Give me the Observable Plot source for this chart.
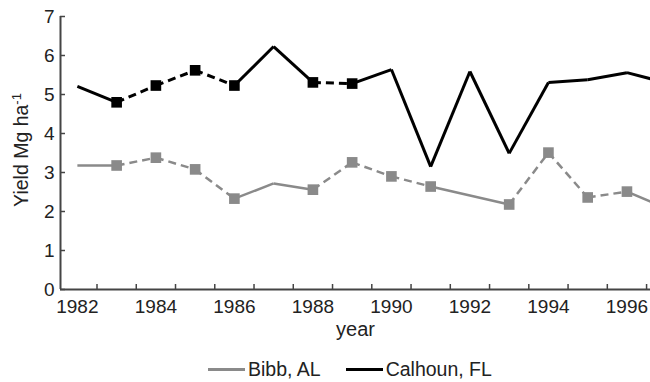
<!DOCTYPE html>
<html><head><meta charset="utf-8">
<script src="https://cdn.jsdelivr.net/npm/d3@7"></script>
<script src="https://cdn.jsdelivr.net/npm/@observablehq/plot@0.6"></script>
<style>
body{margin:0;background:#fff;font-family:"Liberation Sans",Arial,sans-serif;color:#222;}
#chart svg{display:block;}
#legend{width:650px;height:37px;display:flex;justify-content:flex-start;align-items:center;padding-left:208px;padding-top:12px;box-sizing:border-box;font-size:19.5px;}
.item{display:flex;align-items:center;margin-right:25px;}
.sw{width:37px;height:3px;margin-right:3px;}
</style></head><body>
<div id="chart"></div>
<div id="legend"></div>
<script>
// ---- data ----
const years = [1982,1983,1984,1985,1986,1987,1988,1989,1990,1991,1992,1993,1994,1995,1996,1997];
const calhoun = [5.21,4.80,5.23,5.62,5.23,6.23,5.31,5.28,5.64,3.15,5.59,3.49,5.31,5.38,5.56,5.30];
const bibb    = [3.18,3.18,3.38,3.08,2.33,2.72,2.56,3.26,2.90,2.64,null,2.18,3.51,2.36,2.51,2.08];
const calhounMarked = [1983,1984,1985,1986,1988,1989];
const bibbMarked = [1983,1984,1985,1986,1988,1989,1990,1991,1993,1994,1995,1996];
const seriesNames = ["Bibb, AL","Calhoun, FL"];
const seriesColors = ["#8a8a8a","#000000"];
const seriesWidths = [2.5,3];
const yTicks = [0,1,2,3,4,5,6,7];
const xLabelYears = [1982,1984,1986,1988,1990,1992,1994,1996];
const xBoundaryYears = [1982.5,1983.5,1984.5,1985.5,1986.5,1987.5,1988.5,1989.5,1990.5,1991.5,1992.5,1993.5,1994.5,1995.5,1996.5];

// ---- build tables ----
const series = [
  {name: seriesNames[0], values: bibb, marked: bibbMarked, color: seriesColors[0], width: seriesWidths[0]},
  {name: seriesNames[1], values: calhoun, marked: calhounMarked, color: seriesColors[1], width: seriesWidths[1]}
];
const solidSegs = [], dashedSegs = [], markers = [];
for (const s of series) {
  const pts = years.map((yr, i) => ({year: yr, value: s.values[i]})).filter(p => p.value != null);
  for (let i = 0; i < pts.length - 1; i++) {
    const a = pts[i], b = pts[i+1];
    const seg = {x1: a.year, y1: a.value, x2: b.year, y2: b.value, color: s.color, width: s.width};
    const dashed = s.marked.includes(a.year) && s.marked.includes(b.year) && b.year - a.year === 1;
    (dashed ? dashedSegs : solidSegs).push(seg);
  }
  for (const p of pts) if (s.marked.includes(p.year)) markers.push({...p, color: s.color});
}

const xDomain = [1981.57, 1996.6];
const axisColor = "#444";
const chart = Plot.plot({
  width: 650, height: 345,
  marginLeft: 60, marginRight: 0, marginTop: 16, marginBottom: 56,
  style: {fontFamily: "'Liberation Sans', Arial, sans-serif", fontSize: "19px", color: "#222", background: "white", overflow: "visible"},
  x: {domain: xDomain},
  y: {domain: [0, 7]},
  marks: [
    Plot.axisY(yTicks, {tickSize: -5, tickPadding: 11, tickFormat: d => String(d), label: null, stroke: axisColor, strokeWidth: 1.5, fontSize: 19}),
    Plot.axisX(xBoundaryYears, {tickSize: -5, tickPadding: 0, tickFormat: () => "", label: null, stroke: axisColor, strokeWidth: 1.5}),
    Plot.axisX(xLabelYears, {tickSize: 0, tickPadding: 10, tickFormat: d => String(d), label: null, fontSize: 19}),
    Plot.ruleX([xDomain[0]], {stroke: axisColor, strokeWidth: 2}),
    Plot.ruleY([0], {stroke: axisColor, strokeWidth: 2}),
    Plot.link(solidSegs, {x1: "x1", y1: "y1", x2: "x2", y2: "y2", stroke: "color", strokeWidth: "width", clip: true}),
    Plot.link(dashedSegs, {x1: "x1", y1: "y1", x2: "x2", y2: "y2", stroke: "color", strokeWidth: "width", strokeDasharray: "8,5", clip: true}),
    Plot.dot(markers, {x: "year", y: "value", symbol: "square", r: 6, fill: "color", stroke: "none"}),
    Plot.text(["year"], {text: d => d, frameAnchor: "bottom", dy: 46, fontSize: 20, fill: "#222"})
  ]
});
document.getElementById("chart").appendChild(chart);

// y-axis label with superscript
const svg = d3.select(chart);
const t = svg.append("text")
  .attr("transform", "translate(28,150) rotate(-90)")
  .attr("text-anchor", "middle")
  .attr("fill", "#222")
  .style("font-size", "19.5px")
  .text("Yield Mg ha");
t.append("tspan").attr("baseline-shift", "super").style("font-size", "13px").text("-1");

// legend
const legend = d3.select("#legend");
series.forEach(s => {
  const it = legend.append("div").attr("class", "item");
  it.append("div").attr("class", "sw").style("background", s.color);
  it.append("span").text(s.name);
});
</script>
</body></html>
